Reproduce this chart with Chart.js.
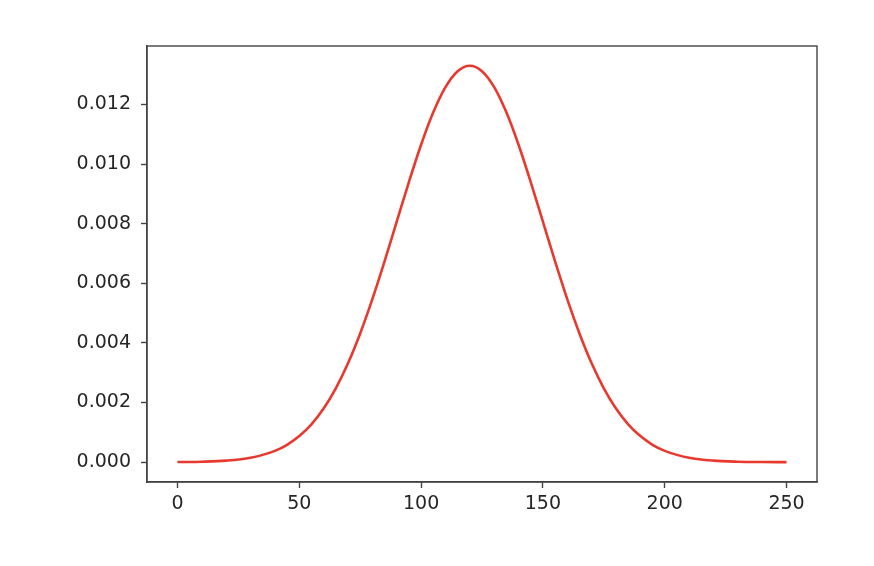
<!DOCTYPE html>
<html>
<head>
<meta charset="utf-8">
<script src="https://cdn.jsdelivr.net/npm/chart.js@4"></script>
<style>
  html, body { margin: 0; padding: 0; background: #fff; }
  #wrap { width: 874px; height: 566px; }
</style>
</head>
<body>
<div id="wrap"><canvas id="chart" width="874" height="566"></canvas></div>
<script>
// x positions of the sampled curve
const xValues = [0, 10, 20, 30, 40, 45, 50, 55, 60, 65, 70, 75, 80, 85, 90, 95,
                 100, 105, 110, 115, 120, 125, 130, 135, 140, 145, 150, 155,
                 160, 165, 170, 175, 180, 185, 190, 195, 200, 210, 220, 230, 240, 250];
// density
const yValues = [0.0000045, 0.000016, 0.000051, 0.000148, 0.00038, 0.000584, 0.000874,
                 0.001271, 0.0018, 0.002478, 0.003317, 0.004318, 0.005467, 0.006733,
                 0.008066, 0.009397, 0.010648, 0.011735, 0.01258, 0.013115, 0.013298,
                 0.013115, 0.01258, 0.011735, 0.010648, 0.009397, 0.008066, 0.006733,
                 0.005467, 0.004318, 0.003317, 0.002478, 0.0018, 0.001271, 0.000874,
                 0.000584, 0.00038, 0.000148, 0.000051, 0.000016, 0.0000045, 0.000001];
const xTicks = [0, 50, 100, 150, 200, 250];
const yTicks = [0, 0.002, 0.004, 0.006, 0.008, 0.010, 0.012];

const points = xValues.map((x, i) => ({ x: x, y: yValues[i] }));

const tickFont = { family: "'DejaVu Sans', sans-serif", size: 19 };
const axisColor = '#444';

// draws the top and right sides of the box
const framePlugin = {
  id: 'frame',
  afterDraw(chart) {
    const { ctx, chartArea: a } = chart;
    ctx.save();
    ctx.strokeStyle = axisColor;
    ctx.lineWidth = 1.4;
    ctx.strokeRect(a.left, a.top, a.right - a.left, a.bottom - a.top);
    ctx.restore();
  }
};

new Chart(document.getElementById('chart'), {
  type: 'line',
  data: {
    datasets: [{
      data: points,
      borderColor: '#e8392f',
      borderWidth: 2.6,
      pointRadius: 0,
      cubicInterpolationMode: 'monotone',
      fill: false
    }]
  },
  options: {
    responsive: false,
    animation: false,
    layout: { padding: { top: 46, right: 57, left: 0, bottom: 0 } },
    plugins: { legend: { display: false }, tooltip: { enabled: false } },
    scales: {
      x: {
        type: 'linear',
        min: -12.5,
        max: 262.5,
        afterBuildTicks: axis => { axis.ticks = xTicks.map(v => ({ value: v })); },
        afterFit: axis => { axis.height = 84; },
        grid: { drawOnChartArea: false, tickLength: 6, tickColor: axisColor, tickWidth: 1.4 },
        border: { display: true, color: axisColor, width: 1.4 },
        ticks: { color: '#262626', font: tickFont, padding: 5, maxRotation: 0 }
      },
      y: {
        type: 'linear',
        min: -0.000665,
        max: 0.01396,
        afterBuildTicks: axis => { axis.ticks = yTicks.map(v => ({ value: v })); },
        afterFit: axis => { axis.width = 147; },
        grid: { drawOnChartArea: false, tickLength: 6, tickColor: axisColor, tickWidth: 1.4 },
        border: { display: true, color: axisColor, width: 1.4 },
        ticks: { color: '#262626', font: tickFont, padding: 10, callback: v => v.toFixed(3) }
      }
    }
  },
  plugins: [framePlugin]
});
</script>
</body>
</html>
